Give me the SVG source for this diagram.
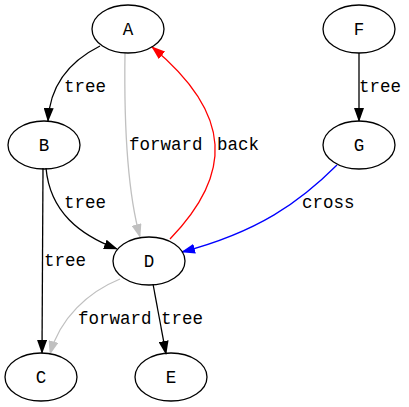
<svg xmlns="http://www.w3.org/2000/svg" width="409" height="407" viewBox="0 0 409 407">
<style>
.node ellipse{fill:none;stroke:#000;stroke-width:1.3}
text{font-family:"Liberation Mono","Courier New",monospace;font-size:17.5px;fill:#000}
.node text{text-anchor:middle}
.e{fill:none;stroke-width:1.3}
.k{stroke:#000}.g{stroke:#c0c0c0}.r{stroke:#f00}.b{stroke:#00f}
</style>
<defs>
<marker id="mk" viewBox="0 0 14 10" refX="13" refY="5" markerWidth="14" markerHeight="10" markerUnits="userSpaceOnUse" orient="auto"><path d="M0,0L14,5L0,10z" fill="#000"/></marker>
<marker id="mg" viewBox="0 0 14 10" refX="13" refY="5" markerWidth="14" markerHeight="10" markerUnits="userSpaceOnUse" orient="auto"><path d="M0,0L14,5L0,10z" fill="#c0c0c0"/></marker>
<marker id="mr" viewBox="0 0 14 10" refX="13" refY="5" markerWidth="14" markerHeight="10" markerUnits="userSpaceOnUse" orient="auto"><path d="M0,0L14,5L0,10z" fill="#f00"/></marker>
<marker id="mb" viewBox="0 0 14 10" refX="13" refY="5" markerWidth="14" markerHeight="10" markerUnits="userSpaceOnUse" orient="auto"><path d="M0,0L14,5L0,10z" fill="#00f"/></marker>
</defs>
<rect width="409" height="407" fill="#fff"/>
<g id="edges">
<path class="e k" d="M100,46 C72,60 50,82 48,121" marker-end="url(#mk)"/>
<text x="64" y="92">tree</text>
<path class="e g" d="M125,53 C124,120 127,190 140,237" marker-end="url(#mg)"/>
<text x="129" y="150">forward</text>
<path class="e r" d="M170,239 C232,175 234,115 152,47" marker-end="url(#mr)"/>
<text x="217" y="150">back</text>
<path class="e k" d="M359,53 L359,121" marker-end="url(#mk)"/>
<text x="359" y="92">tree</text>
<path class="e k" d="M46,168 C50,212 80,235 117,249" marker-end="url(#mk)"/>
<text x="64" y="208">tree</text>
<path class="e b" d="M337,165 C300,202 258,232 182,252" marker-end="url(#mb)"/>
<text x="302" y="208">cross</text>
<path class="e k" d="M43,168 L42,353" marker-end="url(#mk)"/>
<text x="44" y="266">tree</text>
<path class="e g" d="M120,279 C88,292 60,318 50,354" marker-end="url(#mg)"/>
<text x="78" y="324">forward</text>
<path class="e k" d="M153,284 L166,354" marker-end="url(#mk)"/>
<text x="161" y="324">tree</text>
</g>
<g id="A" class="node"><ellipse cx="128" cy="29" rx="36" ry="24"/><text x="128" y="35">A</text></g>
<g id="B" class="node"><ellipse cx="44" cy="145" rx="36" ry="24"/><text x="44" y="151">B</text></g>
<g id="D" class="node"><ellipse cx="149" cy="261" rx="36" ry="24"/><text x="149" y="267">D</text></g>
<g id="C" class="node"><ellipse cx="41" cy="377" rx="36" ry="24"/><text x="41" y="383">C</text></g>
<g id="E" class="node"><ellipse cx="171" cy="377" rx="36" ry="24"/><text x="171" y="383">E</text></g>
<g id="F" class="node"><ellipse cx="359" cy="29" rx="36" ry="24"/><text x="359" y="35">F</text></g>
<g id="G" class="node"><ellipse cx="359" cy="145" rx="36" ry="24"/><text x="359" y="151">G</text></g>
</svg>
